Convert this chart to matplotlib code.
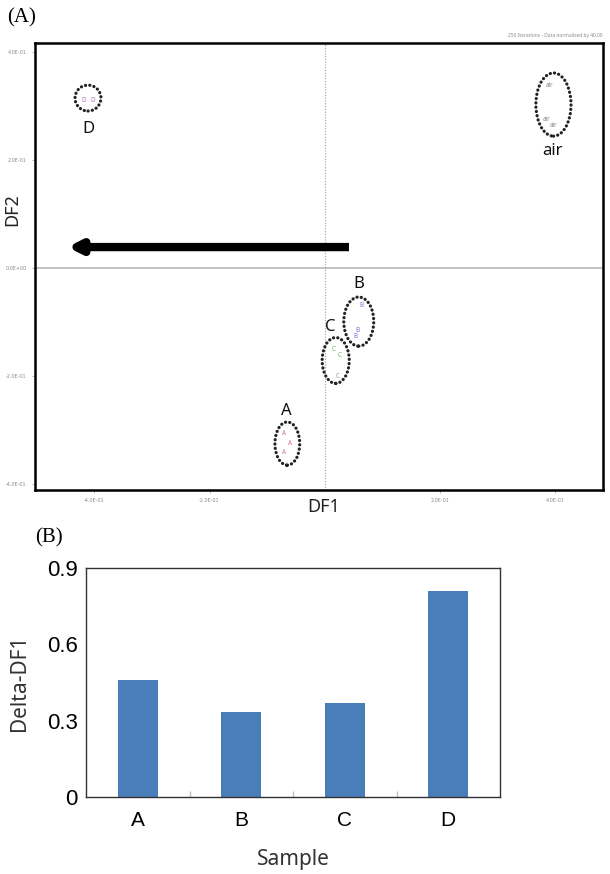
import matplotlib
matplotlib.use("Agg")
import matplotlib.pyplot as plt
from matplotlib.patches import Ellipse

# === Dados do painel (A): pontos DF1/DF2 por amostra ===
groups = ["D", "air", "B", "C", "A"]
point_marks = {"D": "D", "air": "air", "B": "B", "C": "C", "A": "A"}
df1_D = [-0.419, -0.403]
df2_D = [0.311, 0.311]
df1_air = [0.390, 0.386, 0.397]
df2_air = [0.339, 0.276, 0.265]
df1_B = [0.063, 0.057, 0.054]
df2_B = [-0.069, -0.115, -0.126]
df1_C = [0.016, 0.026, 0.023]
df2_C = [-0.150, -0.161, -0.200]
df1_A = [-0.070, -0.061, -0.071]
df2_A = [-0.306, -0.324, -0.341]
x_ticks = [-0.4, -0.2, 0.2, 0.4]
x_tick_labels = ["-4.0E-01", "-2.0E-01", "2.0E-01", "4.0E-01"]
y_ticks = [-0.4, -0.2, 0.0, 0.2, 0.4]
y_tick_labels = ["-4.0E-01", "-2.0E-01", "0.0E+00", "2.0E-01", "4.0E-01"]

# === Dados do painel (B): Delta-DF1 ===
samples = ["A", "B", "C", "D"]
delta_df1 = [0.458, 0.333, 0.370, 0.808]
bar_ticks = [0, 0.3, 0.6, 0.9]
bar_tick_labels = ["0", "0.3", "0.6", "0.9"]

xs = {"D": df1_D, "air": df1_air, "B": df1_B, "C": df1_C, "A": df1_A}
ys = {"D": df2_D, "air": df2_air, "B": df2_B, "C": df2_C, "A": df2_A}
colors = {"D": "#b070b8", "air": "#8a8a8a", "B": "#7070d8", "C": "#70b070", "A": "#d07080"}

# elipses pontilhadas (centro x, centro y, largura, altura) e posicao do rotulo
ellipses = {
    "D": (-0.411, 0.315, 0.045, 0.048),
    "air": (0.397, 0.303, 0.061, 0.117),
    "B": (0.059, -0.099, 0.052, 0.091),
    "C": (0.019, -0.171, 0.047, 0.085),
    "A": (-0.065, -0.325, 0.043, 0.080),
}
label_pos = {
    "D": (-0.410, 0.257),
    "air": (0.395, 0.217),
    "B": (0.059, -0.030),
    "C": (0.009, -0.109),
    "A": (-0.066, -0.265),
}

fig = plt.figure(figsize=(6.1, 8.74), dpi=100)
sans = ["Noto Sans", "DejaVu Sans"]

# === Painel (A) ===
ax1 = fig.add_axes([35 / 610, 1 - 490 / 874, 568 / 610, 447 / 874])
ax1.set_xlim(-0.503, 0.483)
ax1.set_ylim(-0.411, 0.417)
ax1.axhline(0, color="#b8b8b8", lw=1.2, zorder=1)
ax1.axvline(0, color="#9a9a9a", lw=0.8, ls=(0, (1, 1.5)), zorder=1)

for g in groups:
    for x, y in zip(xs[g], ys[g]):
        ax1.text(x, y, point_marks[g], fontsize=4.5, color=colors[g],
                 ha="center", va="center", family=sans)
    cx, cy, w, h = ellipses[g]
    e = Ellipse((cx, cy), w, h, fill=False, edgecolor="#222222",
                lw=2.3, ls=(0, (0.05, 1.3)), zorder=3)
    e.set_capstyle("round")
    ax1.add_patch(e)
    lx, ly = label_pos[g]
    ax1.text(lx, ly, g, fontsize=12, color="#111111", ha="center",
             va="center", family=sans)

ax1.annotate("", xy=(-0.447, 0.039), xytext=(0.042, 0.039),
             arrowprops=dict(arrowstyle="-|>,head_length=0.7,head_width=0.35",
                             lw=6, color="black", shrinkA=0, shrinkB=0,
                             capstyle="butt"))

ax1.set_xticks(x_ticks)
ax1.set_xticklabels(x_tick_labels)
ax1.set_yticks(y_ticks)
ax1.set_yticklabels(y_tick_labels)
ax1.tick_params(labelsize=3.5, labelcolor="#8a8a8a", color="#aaaaaa",
                length=2, width=0.6, pad=4)
for s in ax1.spines.values():
    s.set_linewidth(1.8)
    s.set_color("black")
ax1.set_xlabel("DF1", fontsize=13, family=sans, color="#222222")
ax1.set_ylabel("DF2", fontsize=13, family=sans, color="#222222")
ax1.xaxis.set_label_coords(0.508, -0.018)
ax1.yaxis.set_label_coords(-0.024, 0.627)
fig.text(603 / 610, 1 - 38 / 874, "250 Iterations - Data normalized by 40.00",
         fontsize=3.5, color="#8a8a8a", ha="right", va="bottom", family=sans)
fig.text(7 / 610, 1 - 18 / 874, "(A)", fontsize=15, family="Liberation Serif",
         va="center", ha="left")

# === Painel (B) ===
ax2 = fig.add_axes([86 / 610, 1 - 797 / 874, 414 / 610, 229 / 874])
ax2.bar(range(len(samples)), delta_df1, width=0.39, color="#4a7ebb", zorder=2)
ax2.set_xlim(-0.5, len(samples) - 0.5)
ax2.set_ylim(0, 0.9)
ax2.set_xticks(range(len(samples)))
ax2.set_xticklabels(samples)
ax2.set_yticks(bar_ticks)
ax2.set_yticklabels(bar_tick_labels)
ax2.set_xticks([0.5, 1.5, 2.5], minor=True)
ax2.tick_params(axis="x", which="major", length=0, pad=10, labelsize=15)
ax2.tick_params(axis="x", which="minor", direction="in", length=4,
                color="#c0c0c0", width=1)
ax2.tick_params(axis="y", length=0, pad=6, labelsize=16)
for lab in ax2.get_xticklabels() + ax2.get_yticklabels():
    lab.set_family("Liberation Sans")
for s in ax2.spines.values():
    s.set_linewidth(1.0)
    s.set_color("#333333")
ax2.set_xlabel("Sample", fontsize=15, family=sans, labelpad=14, color="#333333")
ax2.set_ylabel("Delta-DF1", fontsize=15, family=sans, labelpad=12, color="#333333")
fig.text(35 / 610, 1 - 538 / 874, "(B)", fontsize=15, family="Liberation Serif",
         va="center", ha="left")

fig.savefig("out.png", dpi=100)
